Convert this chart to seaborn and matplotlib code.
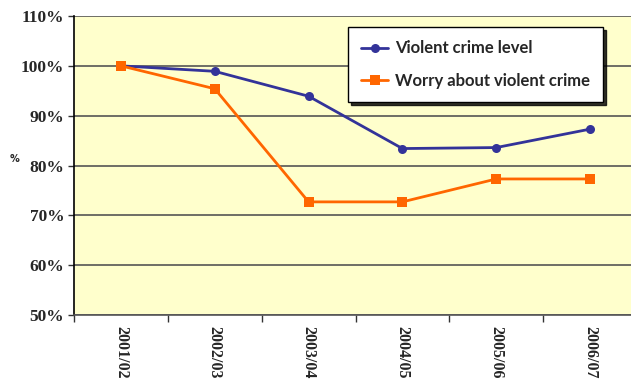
import pandas as pd
import matplotlib
matplotlib.use("Agg")
import matplotlib.pyplot as plt
import seaborn as sns

# Datos
anios = ["2001/02", "2002/03", "2003/04", "2004/05", "2005/06", "2006/07"]
nivel_violencia = [100.0, 98.9, 93.9, 83.4, 83.6, 87.3]
preocupacion = [100.0, 95.4, 72.7, 72.7, 77.3, 77.3]
serie_nivel = "Violent crime level"
serie_preoc = "Worry about violent crime"

df = pd.DataFrame({
    "anio": anios * 2,
    "valor": nivel_violencia + preocupacion,
    "serie": [serie_nivel] * len(anios) + [serie_preoc] * len(anios),
})

sns.set_style("white")
plt.rcParams["font.family"] = ["DejaVu Sans"]

fig = plt.figure(figsize=(6.31, 3.83), dpi=100)
ax = fig.add_axes([74 / 631, 68 / 383, 563 / 631, 299 / 383])
ax.set_facecolor("#FFFFCC")

sns.lineplot(data=df, x="anio", y="valor", hue="serie", style="serie",
             palette={serie_nivel: "#333399", serie_preoc: "#FF6600"},
             markers={serie_nivel: "o", serie_preoc: "s"},
             dashes=False, markersize=6.5, markeredgewidth=0, linewidth=2,
             ax=ax)

ax.set_xlim(-0.5, 5.5)
ax.set_ylim(50, 110)
ax.set_yticks(range(50, 111, 10))
ax.set_yticklabels([f"{v}%" for v in range(50, 111, 10)],
                   fontsize=12.5, fontweight="bold", family="Liberation Serif")
ax.yaxis.grid(True, color="#555555", linewidth=1.2)
ax.set_axisbelow(True)

ax.set_xticks(range(len(anios)))
ax.set_xticklabels(anios, rotation=270, fontsize=11.5, fontweight="bold",
                   family="Liberation Serif")
ax.set_xticks([i - 0.5 for i in range(len(anios))], minor=True)
ax.tick_params(axis="x", which="major", length=0, pad=8)
ax.tick_params(axis="x", which="minor", length=5, width=1, color="#333333",
               direction="out", bottom=True)
ax.tick_params(axis="y", length=4, width=1, color="#333333", direction="out",
               left=True, pad=3)

ax.set_xlabel("")
ax.set_ylabel("%", rotation=0, fontsize=7, fontweight="bold")
ax.yaxis.set_label_coords(-0.105, 0.505)

for lado in ["top", "right"]:
    ax.spines[lado].set_visible(False)
ax.spines["left"].set_color("black")
ax.spines["left"].set_linewidth(1.2)
ax.spines["bottom"].set_color("#555555")
ax.spines["bottom"].set_linewidth(1.2)

leg = ax.legend(title=None, loc="upper right", bbox_to_anchor=(603 / 631, 1 - 27 / 383),
                bbox_transform=fig.transFigure, borderaxespad=0, frameon=True,
                fancybox=False, shadow={"ox": 2, "oy": -2, "color": "black", "alpha": 0.8},
                borderpad=0.8, labelspacing=1.0, handlelength=1.6, handletextpad=0.4,
                prop={"family": "Lato", "weight": "bold", "size": 12})
leg.get_frame().set_edgecolor("black")
leg.get_frame().set_linewidth(1)
leg.get_frame().set_facecolor("white")
leg.get_frame().set_alpha(1)

fig.savefig("out.png", dpi=100, facecolor="white")
